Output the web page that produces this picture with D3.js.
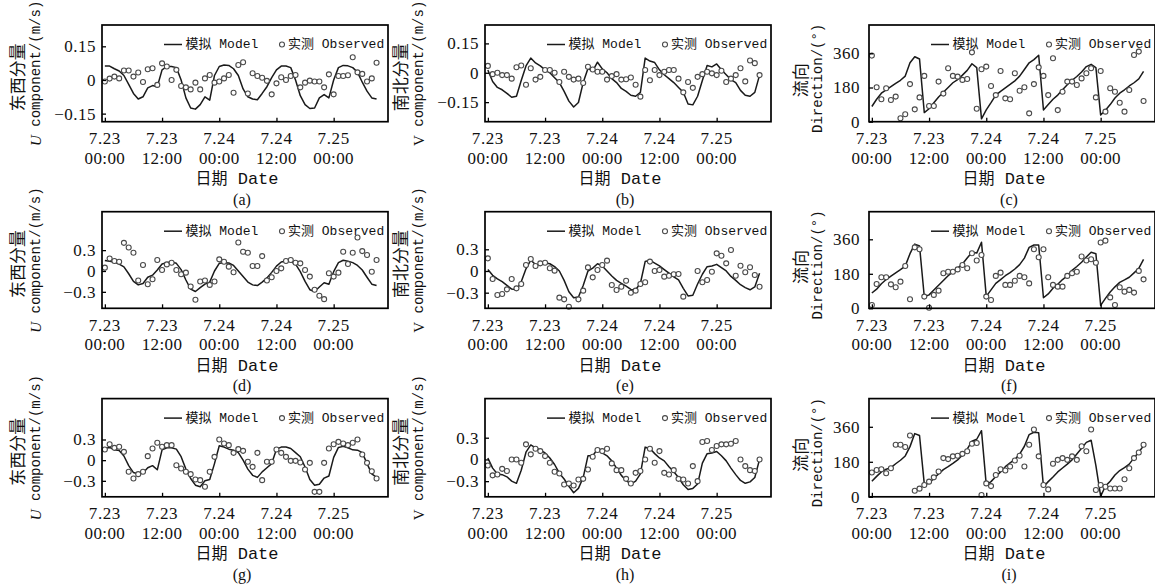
<!DOCTYPE html>
<html>
<head>
<meta charset="utf-8">
<script src="https://cdn.jsdelivr.net/npm/d3@7"></script>
<style>
  body { margin: 0; background: #fff; }
  svg { display: block; }
</style>
</head>
<body>
<svg id="chart" width="1155" height="586"></svg>
<script>
// hours since 7.23 00:00
const hours = [
  0, 1, 2, 3, 4, 5, 6, 7, 8, 9,
  10, 11, 12, 13, 14, 15, 16, 17, 18, 19,
  20, 21, 22, 23, 24, 25, 26, 27, 28, 29,
  30, 31, 32, 33, 34, 35, 36, 37, 38, 39,
  40, 41, 42, 43, 44, 45, 46, 47, 48, 49,
  50, 51, 52, 53, 54, 55, 56, 57
];
const tickHours = [0, 12, 24, 36, 48];
const dayLabels = ["7.23", "7.23", "7.24", "7.24", "7.25"];
const timeLabels = ["00:00", "12:00", "00:00", "12:00", "00:00"];

const uvTicksSmall = [-0.15, 0, 0.15];
const uvLabelsSmall = ["\u22120.15", "0", "0.15"];
const uvTicks = [-0.3, 0, 0.3];
const uvLabels = ["\u22120.3", "0", "0.3"];
const dirTicks = [0, 180, 360];
const dirLabels = ["0", "180", "360"];

// (a) U component, station 1
const aModel = [
  0.062, 0.062, 0.05, 0.04, 0.02, -0.02, -0.06, -0.085, -0.075, -0.035,
  -0.025, -0.03, 0.045, 0.06, 0.06, 0.055, 0.0, -0.08, -0.125, -0.13,
  -0.11, -0.075, -0.09, 0.02, 0.06, 0.067, 0.065, 0.05, 0.02, -0.04,
  -0.075, -0.085, -0.088, -0.06, -0.03, 0.01, 0.045, 0.062, 0.062, 0.055,
  0.0, -0.07, -0.11, -0.127, -0.125, -0.08, -0.065, -0.08, 0.0, 0.055,
  0.065, 0.063, 0.055, 0.035, -0.01, -0.05, -0.08, -0.085
];
const aObs = [
  -0.007, 0.006, 0.015, 0.007, 0.042, 0.042, 0.015, 0.033, -0.009, 0.048,
  0.052, -0.022, 0.074, 0.06, 0.0, 0.045, -0.027, -0.033, -0.042, -0.012,
  -0.042, 0.007, 0.022, -0.012, -0.007, 0.007, 0.022, -0.057, 0.067, 0.079,
  -0.06, 0.03, 0.018, 0.01, -0.004, -0.064, -0.015, 0.012, 0.0, 0.018,
  0.022, -0.033, -0.012, -0.003, -0.007, -0.007, -0.033, 0.025, -0.064, 0.018,
  0.018, 0.021, 0.101, 0.034, 0.027, -0.007, 0.007, 0.077
];
// (b) V component, station 1
const bModel = [
  0.014, -0.045, -0.075, -0.087, -0.105, -0.125, -0.12, -0.04, 0.035, 0.075,
  0.05, 0.035, 0.015, 0.0, -0.025, -0.05, -0.095, -0.145, -0.175, -0.152,
  -0.05, 0.022, 0.01, 0.054, 0.02, 0.0, -0.03, -0.05, -0.08, -0.095,
  -0.115, -0.12, -0.1, 0.075, 0.06, 0.052, 0.015, -0.01, -0.03, -0.05,
  -0.075, -0.1, -0.16, -0.164, -0.12, -0.04, 0.037, 0.03, 0.045, 0.015,
  -0.01, -0.035, -0.05, -0.09, -0.115, -0.12, -0.1, -0.012
];
const bObs = [
  0.035, -0.007, 0.0, -0.012, -0.012, -0.03, 0.028, 0.037, -0.061, 0.023,
  -0.035, -0.021, 0.014, 0.014, 0.0, -0.047, 0.005, -0.021, -0.035, -0.03,
  -0.052, 0.031, 0.017, 0.005, 0.005, -0.035, -0.017, -0.007, -0.035, -0.033,
  -0.024, -0.061, -0.122, 0.014, -0.038, 0.014, -0.012, 0.005, 0.014, 0.014,
  -0.03, -0.1, -0.047, -0.077, -0.021, -0.007, 0.005, -0.003, -0.012, 0.01,
  -0.047, -0.03, -0.012, 0.023, -0.044, 0.063, 0.049, -0.012
];
// (c) direction, station 1
const cModel = [
  80, 118, 150, 168, 185, 202, 218, 240, 310, 342,
  330, 48, 68, 100, 130, 155, 180, 205, 222, 245,
  270, 305, 285, 15, 62, 100, 140, 160, 178, 196,
  215, 240, 275, 310, 327, 350, 62, 90, 118, 140,
  168, 195, 218, 238, 262, 290, 302, 285, 35, 60,
  90, 125, 150, 168, 188, 205, 225, 265
];
const cObs = [
  348, 181, 118, 176, 114, 132, 18, 39, 198, 65,
  128, 241, 83, 83, 211, 148, 281, 241, 237, 220,
  225, 365, 68, 276, 290, 188, 140, 267, 123, 118,
  255, 163, 181, 44, 198, 286, 241, 140, 334, 61,
  158, 211, 211, 193, 228, 255, 281, 128, 267, 53,
  176, 158, 100, 53, 167, 351, 369, 109
];
// (d) U component, station 2
const dModel = [
  0.15, 0.14, 0.13, 0.1, 0.06, -0.04, -0.15, -0.2, -0.18, -0.09,
  -0.06, 0.014, 0.1, 0.12, 0.13, 0.11, 0.02, -0.13, -0.26, -0.295,
  -0.24, -0.19, -0.16, 0.0, 0.11, 0.12, 0.115, 0.08, 0.0, -0.08,
  -0.16, -0.2, -0.21, -0.16, -0.1, -0.02, 0.07, 0.13, 0.143, 0.135,
  0.1, -0.01, -0.15, -0.27, -0.295, -0.23, -0.17, -0.19, -0.01, 0.12,
  0.155, 0.14, 0.12, 0.08, 0.014, -0.09, -0.19, -0.21
];
const dObs = [
  0.048, 0.18, 0.143, 0.133, 0.405, 0.338, 0.262, -0.138, 0.086, -0.19,
  -0.119, 0.157, 0.014, 0.095, 0.119, 0.014, -0.048, -0.024, -0.224, -0.414,
  -0.152, -0.138, -0.2, -0.152, 0.167, 0.133, 0.062, -0.019, 0.41, 0.276,
  0.262, 0.071, 0.071, 0.214, -0.138, -0.09, 0.0, 0.038, 0.143, 0.157,
  0.119, 0.11, 0.014, -0.081, -0.271, -0.357, -0.405, -0.033, -0.081, -0.024,
  0.276, 0.1, 0.262, 0.481, 0.286, 0.229, -0.01, 0.157
];
// (e) V component, station 2
const eModel = [
  0.02, -0.06, -0.11, -0.148, -0.2, -0.25, -0.26, -0.15, 0.03, 0.15,
  0.09, 0.08, 0.115, 0.1, 0.06, 0.0, -0.13, -0.286, -0.37, -0.36,
  -0.2, 0.0, 0.04, 0.1, 0.07, 0.0, -0.07, -0.13, -0.17, -0.21,
  -0.255, -0.26, -0.17, 0.13, 0.15, 0.11, 0.07, 0.02, -0.03, -0.08,
  -0.124, -0.24, -0.345, -0.335, -0.18, -0.045, 0.06, 0.07, 0.092, 0.046,
  0.0, -0.075, -0.13, -0.19, -0.23, -0.26, -0.22, -0.032
];
const eObs = [
  0.175, -0.11, -0.332, -0.318, -0.254, -0.11, -0.24, -0.18, 0.083, 0.166,
  0.069, 0.106, 0.115, 0.037, 0.005, -0.369, -0.392, -0.494, null, -0.392,
  -0.272, 0.05, -0.088, 0.014, 0.083, 0.143, -0.194, -0.263, -0.217, -0.134,
  -0.3, -0.272, -0.18, -0.156, 0.13, 0.0, 0.014, -0.078, -0.065, -0.046,
  -0.041, -0.355, null, null, 0.0, -0.156, -0.124, -0.01, 0.244, 0.211,
  0.106, 0.29, -0.065, 0.073, -0.018, 0.051, -0.055, -0.217
];
// (f) direction, station 2
const fModel = [
  80, 100, 128, 150, 168, 185, 202, 220, 285, 335,
  325, 60, 70, 95, 120, 145, 170, 190, 210, 231,
  262, 292, 288, 345, 62, 96, 130, 150, 170, 186,
  205, 228, 262, 318, 330, 330, 55, 75, 105, 125,
  150, 170, 198, 218, 240, 268, 292, 285, 15, 52,
  85, 112, 135, 148, 162, 185, 208, 255
];
const fObs = [
  17, 127, 162, 162, 125, 110, 139, 221, 47, 318,
  308, 61, 3, 70, 92, 183, 191, 191, 203, 226,
  209, 287, 249, 278, 61, 43, 169, 186, 122, 122,
  144, 169, 162, 130, 308, 266, 308, 162, 122, 113,
  113, 169, 183, 191, 270, 249, 256, 238, 343, 353,
  57, 17, 110, 87, 96, 82, 195, 151
];
// (g) U component, station 3
const gModel = [
  0.17, 0.185, 0.15, 0.14, 0.06, -0.08, -0.18, -0.2, -0.185, -0.11,
  -0.08, -0.14, 0.15, 0.18, 0.18, 0.16, 0.05, -0.13, -0.266, -0.363,
  -0.385, -0.3, -0.28, -0.05, 0.21, 0.19, 0.16, 0.145, 0.11, 0.0,
  -0.13, -0.22, -0.25, -0.17, -0.11, -0.05, 0.16, 0.19, 0.19, 0.17,
  0.11, 0.05, -0.1, -0.28, -0.363, -0.35, -0.26, -0.23, 0.04, 0.185,
  0.2, 0.18, 0.15, 0.145, 0.11, -0.05, -0.2, -0.25
];
const gObs = [
  0.155, 0.232, 0.179, 0.194, 0.121, -0.169, -0.266, -0.203, -0.169, 0.058,
  0.169, 0.252, 0.194, 0.218, 0.218, -0.073, -0.121, -0.169, -0.203, -0.281,
  -0.29, -0.387, -0.169, 0.048, 0.3, 0.242, 0.218, 0.106, 0.16, 0.135,
  -0.024, -0.097, 0.106, -0.29, -0.024, -0.024, 0.155, 0.106, 0.048, -0.01,
  -0.01, -0.034, -0.135, -0.039, -0.46, -0.46, -0.039, 0.169, 0.232, 0.266,
  0.242, 0.218, 0.252, 0.3, 0.082, -0.039, -0.16, -0.266
];
// (h) V component, station 3
const hModel = [
  0.02, -0.12, -0.2, -0.21, -0.24, -0.3, -0.33, -0.15, 0.1, 0.2,
  0.16, 0.13, 0.09, 0.02, -0.07, -0.19, -0.27, -0.37, -0.46, -0.4,
  -0.25, 0.05, 0.05, 0.14, 0.09, 0.05, -0.02, -0.12, -0.22, -0.29,
  -0.34, -0.3, -0.2, 0.17, 0.15, 0.08, 0.02, -0.02, -0.1, -0.17,
  -0.25, -0.35, -0.415, -0.4, -0.34, -0.05, 0.08, 0.09, 0.11, 0.05,
  -0.02, -0.12, -0.21, -0.29, -0.33, -0.31, -0.25, 0.0
];
const hObs = [
  -0.083, -0.22, -0.208, -0.13, -0.16, 0.0, 0.0, -0.046, 0.208, 0.07,
  0.148, 0.115, 0.046, -0.046, -0.17, -0.194, -0.346, -0.332, -0.36, -0.277,
  -0.268, -0.138, 0.037, 0.13, 0.115, 0.148, -0.055, -0.148, -0.148, -0.268,
  -0.332, -0.185, -0.16, 0.0, 0.148, -0.046, 0.115, -0.185, -0.208, -0.148,
  -0.268, -0.277, -0.332, -0.092, -0.3, 0.24, 0.254, 0.13, 0.185, 0.208,
  0.208, 0.217, 0.254, 0.0, -0.092, -0.148, -0.16, 0.0
];
// (i) direction, station 3
const iModel = [
  80, 105, 128, 142, 150, 170, 188, 210, 258, 325,
  315, 65, 69, 95, 118, 140, 155, 172, 190, 215,
  245, 286, 296, 340, 61, 78, 104, 128, 155, 175,
  192, 220, 260, 320, 332, 329, 52, 78, 102, 128,
  148, 168, 190, 220, 250, 280, 291, 160, 3, 55,
  80, 112, 135, 150, 168, 200, 230, 262
];
const iObs = [
  125, 138, 142, 121, 147, 268, 268, 256, 315, 31,
  42, 61, 78, 100, 130, 199, 194, 208, 211, 221,
  234, 273, 277, 9, 69, 55, 112, 142, 135, 156,
  187, 211, 156, 268, 346, 208, 61, 38, 170, 190,
  199, 190, 208, 190, 260, 234, 346, 35, 61, 52,
  43, 43, 43, 90, 147, 199, 228, 268
];

const NUM = "'Liberation Serif', 'Times New Roman', serif";
const MONO = "'Liberation Mono', 'Noto Sans CJK SC', monospace";
const CJK = "'Noto Sans CJK SC', sans-serif";

const svg = d3.select("#chart");
const W = 286;
const xDomain = [-0.6, 59.4];

// column/row layout
const cols = [102, 485, 869];
const rows = [{top: 25, h: 96.7}, {top: 211.7, h: 96.6}, {top: 398.6, h: 98.2}];

const panels = [
  {c: 0, r: 0, tag: "(a)", kind: "U", yDomain: [-0.186, 0.245], ticks: uvTicksSmall, labels: uvLabelsSmall, model: aModel, obs: aObs},
  {c: 1, r: 0, tag: "(b)", kind: "V", yDomain: [-0.25, 0.244], ticks: uvTicksSmall, labels: uvLabelsSmall, model: bModel, obs: bObs},
  {c: 2, r: 0, tag: "(c)", kind: "D", yDomain: [0, 509], ticks: dirTicks, labels: dirLabels, model: cModel, obs: cObs},
  {c: 0, r: 1, tag: "(d)", kind: "U", yDomain: [-0.537, 0.853], ticks: uvTicks, labels: uvLabels, model: dModel, obs: dObs},
  {c: 1, r: 1, tag: "(e)", kind: "V", yDomain: [-0.516, 0.82], ticks: uvTicks, labels: uvLabels, model: eModel, obs: eObs},
  {c: 2, r: 1, tag: "(f)", kind: "D", yDomain: [0, 504], ticks: dirTicks, labels: dirLabels, model: fModel, obs: fObs},
  {c: 0, r: 2, tag: "(g)", kind: "U", yDomain: [-0.532, 0.894], ticks: uvTicks, labels: uvLabels, model: gModel, obs: gObs},
  {c: 1, r: 2, tag: "(h)", kind: "V", yDomain: [-0.516, 0.84], ticks: uvTicks, labels: uvLabels, model: hModel, obs: hObs},
  {c: 2, r: 2, tag: "(i)", kind: "D", yDomain: [0, 505], ticks: dirTicks, labels: dirLabels, model: iModel, obs: iObs}
];

function drawPanel(p) {
  const left = cols[p.c];
  const top = rows[p.r].top;
  const h = rows[p.r].h;
  const g = svg.append("g").attr("transform", `translate(${left},${top})`);

  const x = d3.scaleLinear().domain(xDomain).range([0, W]);
  const y = d3.scaleLinear().domain(p.yDomain).range([h, 0]);

  // simulated line
  const line = d3.line()
    .defined(d => d != null)
    .x((d, i) => x(hours[i]))
    .y(d => y(d));
  g.append("path")
    .datum(p.model)
    .attr("d", line)
    .attr("fill", "none")
    .attr("stroke", "#1a1a1a")
    .attr("stroke-width", 1.5)
    .attr("stroke-linejoin", "round");

  // observed points
  const pts = p.obs.map((v, i) => ({t: hours[i], v: v})).filter(d => d.v != null);
  g.selectAll("circle.obs")
    .data(pts)
    .join("circle")
    .attr("class", "obs")
    .attr("cx", d => x(d.t))
    .attr("cy", d => y(d.v))
    .attr("r", 2.5)
    .attr("fill", "#fff")
    .attr("stroke", "#4a4a4a")
    .attr("stroke-width", 1.1);

  // frame
  g.append("rect")
    .attr("width", W)
    .attr("height", h)
    .attr("fill", "none")
    .attr("stroke", "#000")
    .attr("stroke-width", 1.7);

  // x axis ticks (inward)
  const xa = g.append("g")
    .attr("transform", `translate(0,${h})`)
    .call(d3.axisBottom(x).tickValues(tickHours).tickSize(-4).tickFormat(""));
  xa.select(".domain").remove();
  xa.selectAll(".tick line").attr("stroke", "#000").attr("stroke-width", 1.3);

  g.selectAll("text.xl1")
    .data(tickHours)
    .join("text")
    .attr("class", "xl1")
    .attr("x", d => x(d))
    .attr("y", h + 22.5)
    .attr("text-anchor", "middle")
    .attr("fill", "#111")
    .style("font-family", NUM)
    .style("font-size", "17px")
    .style("letter-spacing", "0.6px")
    .text((d, i) => dayLabels[i]);
  g.selectAll("text.xl2")
    .data(tickHours)
    .join("text")
    .attr("class", "xl2")
    .attr("x", d => x(d))
    .attr("y", h + 42)
    .attr("text-anchor", "middle")
    .attr("fill", "#111")
    .style("font-family", NUM)
    .style("font-size", "17px")
    .style("letter-spacing", "0.4px")
    .text((d, i) => timeLabels[i]);

  // y axis ticks (inward)
  const ya = g.append("g")
    .call(d3.axisLeft(y).tickValues(p.ticks).tickSize(-4)
      .tickPadding(p.kind === "D" ? 9 : 6)
      .tickFormat((d, i) => p.labels[i]));
  ya.select(".domain").remove();
  ya.selectAll(".tick line").attr("stroke", "#000").attr("stroke-width", 1.3);
  ya.selectAll(".tick text")
    .attr("fill", "#111")
    .style("font-family", NUM)
    .style("font-size", "17px")
    .style("letter-spacing", "0.5px");

  // x title
  const xt = g.append("text")
    .attr("x", W / 2 - 8)
    .attr("y", h + 62.5)
    .attr("text-anchor", "middle")
    .attr("fill", "#111");
  xt.append("tspan").style("font-family", CJK).style("font-size", "16px").text("日期");
  xt.append("tspan").style("font-family", MONO).style("font-size", "17px").text(" Date");

  // panel tag
  g.append("text")
    .attr("x", W / 2 - 3)
    .attr("y", h + 83)
    .attr("text-anchor", "middle")
    .attr("fill", "#111")
    .style("font-family", NUM)
    .style("font-size", "16px")
    .text(p.tag);

  // y titles
  let t1, x1, x2, off1, off2;
  if (p.kind === "D") {
    t1 = "流向"; x1 = -70; x2 = -51; off1 = 7; off2 = 5;
  } else {
    t1 = p.kind === "U" ? "东西分量" : "南北分量"; x1 = -85.5; x2 = -66.5; off1 = 4; off2 = 0;
  }
  g.append("text")
    .attr("transform", `translate(${x1},${h / 2 + off1}) rotate(-90)`)
    .attr("text-anchor", "middle")
    .attr("dominant-baseline", "central")
    .attr("fill", "#111")
    .style("font-family", CJK)
    .style("font-size", "17px")
    .text(t1);
  const yt2 = g.append("text")
    .attr("transform", `translate(${x2},${h / 2 + off2}) rotate(-90)`)
    .attr("text-anchor", "middle")
    .attr("dominant-baseline", "central")
    .attr("fill", "#111")
    .style("font-family", MONO)
    .style("font-size", "14px");
  if (p.kind === "D") {
    yt2.text("Direction/(°)");
  } else {
    yt2.append("tspan")
      .style("font-family", NUM)
      .style("font-style", p.kind === "U" ? "italic" : "normal")
      .style("font-size", "15px")
      .text(p.kind);
    yt2.append("tspan").text(" component/(m/s)");
  }

  // legend
  const ly = 19.5;
  g.append("line")
    .attr("x1", 62).attr("x2", 80)
    .attr("y1", ly).attr("y2", ly)
    .attr("stroke", "#1a1a1a").attr("stroke-width", 1.5);
  g.append("text")
    .attr("x", 83.5).attr("y", ly)
    .attr("dominant-baseline", "central")
    .attr("fill", "#111")
    .style("font-family", MONO)
    .style("font-size", "13px")
    .text("模拟 Model");
  g.append("circle")
    .attr("cx", 180).attr("cy", ly).attr("r", 2.5)
    .attr("fill", "#fff").attr("stroke", "#4a4a4a").attr("stroke-width", 1.1);
  g.append("text")
    .attr("x", 186).attr("y", ly)
    .attr("dominant-baseline", "central")
    .attr("fill", "#111")
    .style("font-family", MONO)
    .style("font-size", "13px")
    .text("实测 Observed");
}

panels.forEach(drawPanel);
</script>
</body>
</html>
